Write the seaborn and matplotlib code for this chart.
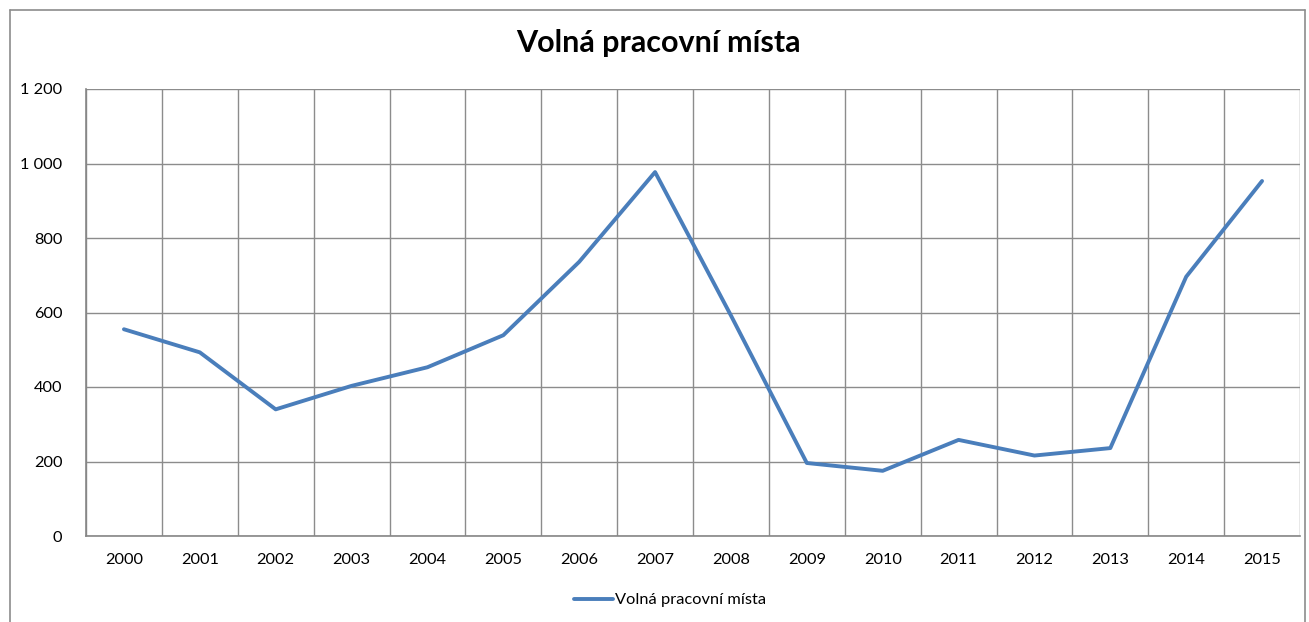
import matplotlib
matplotlib.use('Agg')
import matplotlib.pyplot as plt
import matplotlib.ticker as mticker
from matplotlib.lines import Line2D
import seaborn as sns
import pandas as pd

# data
roky = list(range(2000, 2016))
volna_mista = [555, 493, 340, 403, 453, 539, 736, 977, 592,
               196, 175, 258, 216, 236, 696, 953]
nazev = 'Volná pracovní místa'

sns.set_style('white')
plt.rcParams['font.family'] = ['Lato', 'DejaVu Sans']
plt.rcParams['text.color'] = 'black'

df = pd.DataFrame({'rok': roky, 'hodnota': volna_mista})

fig = plt.figure(figsize=(13.09, 6.22), dpi=100)
W, H = 1309, 622
ax = fig.add_axes([86 / W, (H - 536) / H, 1214 / W, 447 / H])

barva = '#4a7ebb'
sns.lineplot(data=df, x='rok', y='hodnota', ax=ax, color=barva,
             linewidth=2.8, label=nazev, solid_capstyle='round')

ax.set_xlim(roky[0] - 0.5, roky[-1] + 0.5)
ax.set_ylim(0, 1200)
ax.set_xlabel('')
ax.set_ylabel('')

# x: popisky u roku, mrizka a carky mezi kategoriemi
ax.xaxis.set_major_locator(mticker.FixedLocator(roky))
ax.xaxis.set_minor_locator(mticker.FixedLocator([r - 0.5 for r in roky] + [roky[-1] + 0.5]))
ax.tick_params(axis='x', which='major', length=0, pad=12, labelsize=11.8, labelcolor='black')
ax.tick_params(axis='x', which='minor', length=5, width=1, color='#868686', direction='out')
ax.grid(True, axis='x', which='minor', color='#8c8c8c', linewidth=1)

ax.yaxis.set_major_locator(mticker.MultipleLocator(200))
ax.yaxis.set_major_formatter(mticker.FuncFormatter(lambda v, p: f'{v:,.0f}'.replace(',', ' ')))
ax.tick_params(axis='y', which='major', length=5, width=1, color='#868686', direction='out',
               pad=12, labelsize=11.8, labelcolor='black')
ax.grid(True, axis='y', which='major', color='#8c8c8c', linewidth=1)
ax.set_axisbelow(True)

for s in ['top', 'right']:
    ax.spines[s].set_visible(False)
for s in ['left', 'bottom']:
    ax.spines[s].set_color('#868686')
    ax.spines[s].set_linewidth(1.2)

fig.text(658 / W, 1 - 43 / H, nazev, ha='center', va='center', fontsize=22,
         fontweight='bold', color='black')

leg = ax.legend(loc='center', bbox_to_anchor=(670 / W, 1 - 600 / H), bbox_transform=fig.transFigure,
                frameon=False, fontsize=11.8, handlelength=2.4, handletextpad=0.1)

# ramecek oblasti grafu
kw = dict(transform=fig.transFigure, color='#8c8c8c', linewidth=1.2)
fig.add_artist(Line2D([10 / W, 10 / W], [0, 1 - 10 / H], **kw))
fig.add_artist(Line2D([10 / W, 1305 / W], [1 - 10 / H, 1 - 10 / H], **kw))
fig.add_artist(Line2D([1305 / W, 1305 / W], [0, 1 - 10 / H], **kw))

fig.savefig('out.png', dpi=100)
plt.close()
